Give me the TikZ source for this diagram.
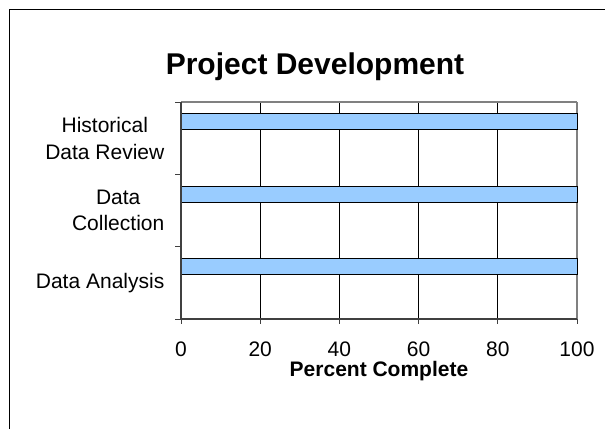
\documentclass[tikz,border=0pt]{standalone}
\usepackage{fontspec}
\setmainfont{Liberation Sans}
\definecolor{barblue}{HTML}{99CCFF}
\definecolor{axisgray}{HTML}{808080}
\definecolor{axisdark}{HTML}{404040}
\begin{document}
\begin{tikzpicture}[x=1pt,y=-1pt,
  bar/.style={draw=black,line width=0.9pt,fill=barblue},
  grid/.style={draw=black,line width=0.8pt},
  cat/.style={anchor=east,align=center,inner sep=0pt,font=\fontsize{21}{26.7}\selectfont},
  ticklbl/.style={anchor=base,inner sep=0pt,font=\fontsize{21}{25}\selectfont},
  axtitle/.style={anchor=base,inner sep=0pt,font=\bfseries\fontsize{21}{25}\selectfont},
  charttitle/.style={anchor=base,inner sep=0pt,font=\bfseries\fontsize{30}{36}\selectfont}]
\useasboundingbox (0,0) rectangle (605,429);
\fill[white] (0,0) rectangle (605,429);
% outer frame
\draw[black,line width=1pt] (9.5,429) -- (9.5,9.5) -- (605,9.5);
% title
\node[charttitle] (title) at (315,74) {Project Development};
% gridlines
\foreach \i in {1,2,3,4} {
  \draw[grid] ({181+79.2*\i},102) -- ({181+79.2*\i},319);
}
% plot borders
\draw[axisgray,line width=1.5pt] (181,102) -- (577,102);
\draw[axisgray,line width=2pt] (577,102) -- (577,319);
% bars
\node[bar,minimum width=396pt,minimum height=16pt,inner sep=0pt,anchor=north west] (b1) at (181,113.3) {};
\node[bar,minimum width=396pt,minimum height=16pt,inner sep=0pt,anchor=north west] (b2) at (181,186) {};
\node[bar,minimum width=396pt,minimum height=16pt,inner sep=0pt,anchor=north west] (b3) at (181,258.3) {};
% axes
\draw[axisdark,line width=1.5pt] (181,102) -- (181,319);
\draw[axisdark,line width=1.5pt] (181,319) -- (577,319);
% category ticks
\foreach \y in {102,174.3,246.7,319} {
  \draw[axisdark,line width=1pt] (175,\y) -- (181,\y);
}
% value ticks
\foreach \i in {0,...,5} {
  \draw[axisdark,line width=1pt] ({181+79.2*\i},319) -- ({181+79.2*\i},324);
}
% tick labels
\foreach \i/\v in {0/0,1/20,2/40,3/60,4/80,5/100} {
  \node[ticklbl] (t\v) at ({181+79.2*\i},356.7) {\v};
}
\node[axtitle] (xt) at (379,376.7) {Percent Complete};
% category labels
\node[cat] (c1) at (164.5,138.2) {Historical\\Data Review};
\node[cat] (c2) at (164.5,210.5) {Data\\Collection};
\node[cat] (c3) at (164.5,282.8) {Data Analysis};
\end{tikzpicture}
\end{document}
